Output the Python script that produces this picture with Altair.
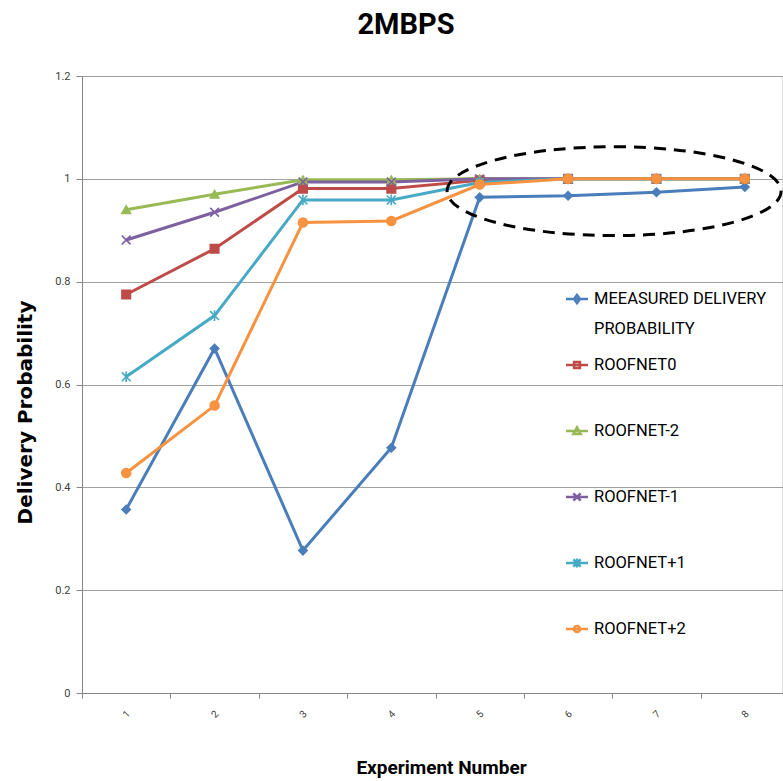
import altair as alt
import pandas as pd

experiments = ["1", "2", "3", "4", "5", "6", "7", "8"]
series_names = [
    "MEEASURED DELIVERY PROBABILITY",
    "ROOFNET0",
    "ROOFNET-2",
    "ROOFNET-1",
    "ROOFNET+1",
    "ROOFNET+2",
]
measured = [0.357, 0.670, 0.277, 0.477, 0.964, 0.967, 0.974, 0.984]
roofnet0 = [0.775, 0.864, 0.981, 0.981, 0.997, 1.0, 1.0, 1.0]
roofnet_m2 = [0.940, 0.970, 0.998, 0.998, 1.0, 1.0, 1.0, 1.0]
roofnet_m1 = [0.881, 0.935, 0.994, 0.994, 1.0, 1.0, 1.0, 1.0]
roofnet_p1 = [0.615, 0.734, 0.959, 0.959, 0.993, 1.0, 1.0, 1.0]
roofnet_p2 = [0.428, 0.559, 0.915, 0.918, 0.989, 1.0, 1.0, 1.0]
all_values = [measured, roofnet0, roofnet_m2, roofnet_m1, roofnet_p1, roofnet_p2]

colors = ["#4A7EBB", "#BE4B48", "#98B954", "#7D60A0", "#46AAC5", "#F69240"]
y_ticks = [0, 0.2, 0.4, 0.6, 0.8, 1.0, 1.2]

# highlight ellipse annotation anchor
ellipse_x = ["6"]
ellipse_y = [0.976]

marker_paths = [
    "diamond",
    "square",
    "triangle-up",
    "M-1,-1L1,1M-1,1L1,-1",
    "M-1,-1L1,1M-1,1L1,-1M0,-1.2L0,1.2",
    "circle",
]
marker_sizes = [70, 80, 80, 40, 40, 95]

legend_paths = [
    "M-1.5,0L1.5,0M0,-0.55L0.4,0L0,0.55L-0.4,0Z",
    "M-1.5,0L1.5,0M-0.4,-0.4L0.4,-0.4L0.4,0.4L-0.4,0.4Z",
    "M-1.5,0L1.5,0M0,-0.5L0.5,0.4L-0.5,0.4Z",
    "M-1.5,0L1.5,0M-0.5,-0.5L0.5,0.5M-0.5,0.5L0.5,-0.5",
    "M-1.5,0L1.5,0M-0.5,-0.5L0.5,0.5M-0.5,0.5L0.5,-0.5M0,-0.6L0,0.6",
    "M-1.5,0L1.5,0M0.42,0A0.42,0.42,0,1,1,-0.42,0A0.42,0.42,0,1,1,0.42,0Z",
]

rows = []
for name, vals in zip(series_names, all_values):
    for e, v in zip(experiments, vals):
        rows.append({"experiment": e, "series": name, "value": v})
df = pd.DataFrame(rows)

first = series_names[0]
FONT = "Roboto"

x_enc = alt.X(
    "experiment:O",
    sort=experiments,
    scale=alt.Scale(type="band", domain=experiments, paddingInner=0, paddingOuter=0, range=[0, 707]),
    axis=alt.Axis(
        title="Experiment Number",
        titleFont=FONT,
        titleFontSize=19,
        titleFontWeight="bold",
        titleColor="#000000",
        titleX=359,
        titleY=80,
        titleBaseline="alphabetic",
        titleAnchor="middle",
        labelAngle=-45,
        labelAlign="center",
        labelBaseline="middle",
        labelPadding=16,
        labelFont=FONT,
        labelFontSize=10,
        labelColor="#404040",
        tickBand="extent",
        tickSize=5,
        tickColor="#868686",
        domainColor="#868686",
        grid=False,
    ),
)
y_enc = alt.Y(
    "value:Q",
    scale=alt.Scale(domain=[0, 1.2], nice=False, zero=True),
    axis=alt.Axis(
        values=y_ticks,
        format=".1~f",
        title="Delivery Probability",
        titleFont="DejaVu Sans",
        titleFontSize=20,
        titleFontWeight="bold",
        titleColor="#000000",
        titleAngle=270,
        titleX=-57,
        titleY=336,
        titleAlign="center",
        titleBaseline="middle",
        labelFont=FONT,
        labelFontSize=11,
        labelColor="#404040",
        labelPadding=6,
        tickSize=6,
        tickColor="#868686",
        domainColor="#868686",
        gridColor="#a0a0a0",
        gridWidth=1.2,
    ),
)

legend = alt.Legend(
    title=None,
    orient="none",
    legendX=486,
    legendY=214,
    padding=0,
    gridAlign="all",
    rowPadding=17,
    symbolSize=215,
    symbolStrokeWidth=2.5,
    labelOffset=8,
    labelFont=FONT,
    labelFontSize=16.5,
    labelColor="#000000",
    labelLimit=400,
    labelBaseline="middle",
    labelExpr=f"datum.label == '{first}' ? ['MEEASURED DELIVERY', 'PROBABILITY'] : datum.label",
)

lines = alt.Chart(df).mark_line(strokeWidth=3).encode(
    x=x_enc,
    y=y_enc,
    color=alt.Color("series:N", scale=alt.Scale(domain=series_names, range=colors), sort=series_names, legend=None),
    order=alt.Order("experiment:O"),
)

points = alt.Chart(df).mark_point(filled=True, opacity=1, strokeWidth=1.6).encode(
    x=x_enc,
    y=y_enc,
    color=alt.Color("series:N", scale=alt.Scale(domain=series_names, range=colors), sort=series_names, legend=None),
    stroke=alt.Stroke("series:N", scale=alt.Scale(domain=series_names, range=colors), legend=None),
    shape=alt.Shape("series:N", scale=alt.Scale(domain=series_names, range=marker_paths), legend=None),
    size=alt.Size("series:N", scale=alt.Scale(domain=series_names, range=marker_sizes), legend=None),
)

legend_layer = alt.Chart(df).transform_filter("false").mark_point(
    filled=False, opacity=1, strokeWidth=2.5
).encode(
    x=x_enc,
    y=y_enc,
    color=alt.Color("series:N", scale=alt.Scale(domain=series_names, range=colors), sort=series_names, legend=legend),
    shape=alt.Shape("series:N", scale=alt.Scale(domain=series_names, range=legend_paths), sort=series_names, legend=legend),
)

ell_df = pd.DataFrame({"experiment": ellipse_x, "value": ellipse_y})
ellipse = alt.Chart(ell_df).mark_point(
    shape="M-1,0A1,0.266,0,1,1,1,0A1,0.266,0,1,1,-1,0Z",
    size=111556,
    filled=False,
    fill="transparent",
    stroke="#000000",
    strokeWidth=3,
    strokeDash=[12, 8],
    opacity=1,
    xOffset=46,
).encode(x=x_enc, y=y_enc)

chart = (
    alt.layer(lines, points, ellipse, legend_layer)
    .resolve_scale(color="independent", shape="independent")
    .properties(
        width=700,
        height=617,
        autosize=alt.AutoSizeParams(type="none"),
        padding={"left": 82, "top": 76, "right": 1, "bottom": 88},
        title=alt.TitleParams(
            text="2MBPS",
            font=FONT,
            fontSize=29,
            fontWeight="bold",
            color="#000000",
            anchor="middle",
            dx=-26,
            offset=30,
        ),
        background="#ffffff",
    )
    .configure_view(stroke="transparent")
    .configure(style={"guide-label": {"lineHeight": 30}})
)

chart.save("out.html", embed_options={"renderer": "svg", "actions": False})
